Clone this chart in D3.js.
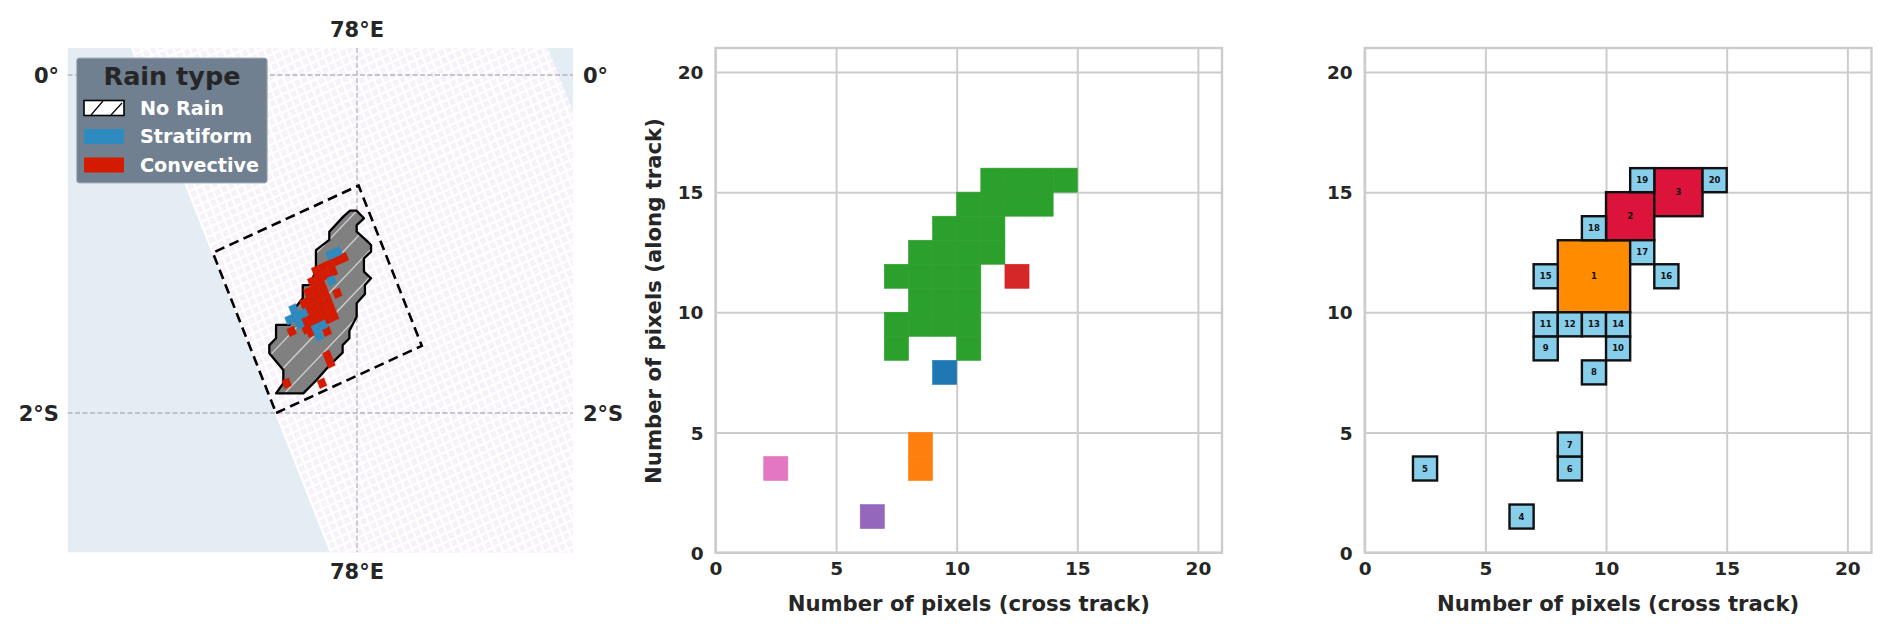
<!DOCTYPE html>
<html>
<head>
<meta charset="utf-8">
<script src="https://cdn.jsdelivr.net/npm/d3@7"></script>
<style>
  html, body { margin: 0; background: #fff; }
  svg { display: block; }
  text { font-family: "DejaVu Sans", sans-serif; font-weight: bold; fill: #262626; }
</style>
</head>
<body>
<svg width="1892" height="636"></svg>
<script>
// cluster cells of the middle panel, [column, row]
const greenCells = [
  [7, 8], [10, 8],
  [7, 9], [8, 9], [9, 9], [10, 9],
  [8, 10], [9, 10], [10, 10],
  [7, 11], [8, 11], [9, 11], [10, 11],
  [8, 12], [9, 12], [10, 12], [11, 12],
  [9, 13], [10, 13], [11, 13],
  [10, 14], [11, 14], [12, 14], [13, 14],
  [11, 15], [12, 15], [13, 15], [14, 15],
];
const blueCells = [[9, 7]];
const redCells = [[12, 11]];
const orangeCells = [[8, 3], [8, 4]];
const purpleCells = [[6, 1]];
const pinkCells = [[2, 3]];

// quadtree boxes of the right panel, [label, x, y, size]
const boxLabels = [1, 2, 3, 4, 5, 6, 7, 8, 9, 10, 11, 12, 13, 14, 15, 16, 17, 18, 19, 20];
const boxX = [8, 10, 12, 6, 2, 8, 8, 9, 7, 10, 7, 8, 9, 10, 7, 12, 11, 9, 11, 14];
const boxY = [10, 13, 14, 1, 3, 3, 4, 7, 8, 8, 9, 9, 9, 9, 11, 11, 12, 13, 15, 15];
const boxSize = [3, 2, 2, 1, 1, 1, 1, 1, 1, 1, 1, 1, 1, 1, 1, 1, 1, 1, 1, 1];

// cloud outline on the map
const outlineLon = [77.959, 77.998, 78.041, 77.998, 77.998, 78.057, 78.083, 78.083, 78.041, 78.041, 78.083, 78.047, 78.047, 77.998, 77.998, 77.955, 77.955, 77.915, 77.915, 77.83, 77.761, 77.682, 77.521, 77.564, 77.564, 77.481, 77.481, 77.521, 77.521, 77.6, 77.639, 77.679, 77.679, 77.722, 77.757, 77.757, 77.836, 77.836, 77.919];
const outlineLat = [-0.803, -0.803, -0.848, -0.888, -0.927, -0.98, -1.006, -1.045, -1.085, -1.164, -1.203, -1.243, -1.296, -1.351, -1.43, -1.513, -1.558, -1.598, -1.643, -1.726, -1.805, -1.884, -1.884, -1.824, -1.746, -1.647, -1.598, -1.558, -1.479, -1.479, -1.371, -1.321, -1.243, -1.243, -1.154, -1.036, -0.976, -0.927, -0.838];

// rain pixels on the map, in swath pixels from the first isolated pixel
const convective = [
  [0, 0], [4.3, -1.8], [6.3, 0], [6.3, 1], [10.5, 7.4], [3.1, 5.5], [7.4, 3.7], [5.4, 4.4],
  [9, 11], [10, 11], [11, 11], [12, 11], [13, 11],
  [8, 10], [9, 10], [10, 10], [11, 10],
  [7, 9], [8, 9], [9, 9],
  [6, 8], [7, 8], [8, 8], [9, 8],
  [6, 7], [7, 7], [8, 7], [9, 7],
  [5, 6], [6, 6], [7, 6], [8, 6], [9, 6],
  [5, 5], [6, 5], [7, 5], [8, 5], [9, 5],
];
const stratiform = [
  [11.5, 12], [12.5, 12], [10.4, 9.1],
  [4.4, 6.9], [3.4, 6.9], [5.4, 6.9], [4.4, 7.9], [4.4, 5.9],
  [6.2, 4.6], [7.2, 4.6], [6.2, 3.6],
];

const axisTicks = [0, 5, 10, 15, 20];
const rainTypes = ["No Rain", "Stratiform", "Convective"];

const TEXT_COLOR = "#262626";
const GRID_COLOR = "#cccccc";

const svg = d3.select("svg");

//////////// PIXEL PANELS ////////////

function pixelPanel(left, right, top, bottom) {
  const x = d3.scaleLinear().domain([0, 21]).range([left, right]);
  const y = d3.scaleLinear().domain([0, 21]).range([bottom, top]);
  const g = svg.append("g");

  const xAxis = g.append("g")
    .attr("transform", `translate(0,${bottom})`)
    .call(d3.axisBottom(x).tickValues(axisTicks).tickSize(top - bottom).tickPadding(0));
  const yAxis = g.append("g")
    .attr("transform", `translate(${left},0)`)
    .call(d3.axisLeft(y).tickValues(axisTicks).tickSize(left - right).tickPadding(0));
  [xAxis, yAxis].forEach((a) => {
    a.select(".domain").remove();
    a.selectAll("line").attr("stroke", GRID_COLOR).attr("stroke-width", 2);
    a.selectAll("text").attr("font-size", 18.5).attr("fill", TEXT_COLOR);
  });
  xAxis.selectAll("text").attr("y", 0).attr("dy", "1.2em");
  yAxis.selectAll("text").attr("x", 0).attr("dx", -12).attr("dy", "0.36em")
    .attr("text-anchor", "end");

  g.append("rect")
    .attr("x", left).attr("y", top)
    .attr("width", right - left).attr("height", bottom - top)
    .attr("fill", "none").attr("stroke", GRID_COLOR).attr("stroke-width", 2.4);

  g.append("text")
    .attr("x", (left + right) / 2).attr("y", bottom + 58.5)
    .attr("text-anchor", "middle").attr("font-size", 21.2)
    .text("Number of pixels (cross track)");
  return { g, x, y };
}

const middle = pixelPanel(715.5, 1222, 48, 552.6);
const right = pixelPanel(1364.7, 1871.5, 48, 552.6);

middle.g.append("text")
  .attr("transform", "translate(661,301) rotate(-90)")
  .attr("text-anchor", "middle").attr("font-size", 21.2)
  .text("Number of pixels (along track)");

const clusters = [
  [greenCells, "#2ca02c"],
  [blueCells, "#1f77b4"],
  [redCells, "#d62728"],
  [orangeCells, "#ff7f0e"],
  [purpleCells, "#9467bd"],
  [pinkCells, "#e377c2"],
];
clusters.forEach(([cells, color]) => {
  middle.g.append("g").selectAll("rect")
    .data(cells)
    .join("rect")
    .attr("x", (d) => middle.x(d[0]))
    .attr("y", (d) => middle.y(d[1] + 1))
    .attr("width", middle.x(1) - middle.x(0))
    .attr("height", middle.y(0) - middle.y(1))
    .attr("fill", color)
    .attr("stroke", color)
    .attr("stroke-width", 0.6);
});

const boxColor = (s) => (s === 3 ? "#ff8c00" : s === 2 ? "#dc143c" : "#87ceeb");
const boxes = right.g.append("g").selectAll("g")
  .data(boxLabels)
  .join("g");
boxes.append("rect")
  .attr("x", (d, i) => right.x(boxX[i]))
  .attr("y", (d, i) => right.y(boxY[i] + boxSize[i]))
  .attr("width", (d, i) => right.x(boxSize[i]) - right.x(0))
  .attr("height", (d, i) => right.y(0) - right.y(boxSize[i]))
  .attr("fill", (d, i) => boxColor(boxSize[i]))
  .attr("stroke", "#111").attr("stroke-width", 2.4);
boxes.append("text")
  .attr("x", (d, i) => right.x(boxX[i] + boxSize[i] / 2))
  .attr("y", (d, i) => right.y(boxY[i] + boxSize[i] / 2))
  .attr("dy", "0.36em")
  .attr("text-anchor", "middle").attr("font-size", 8.5)
  .style("fill", "#111")
  .text((d) => d);

//////////// MAP PANEL ////////////

const mapLeft = 67.5, mapRight = 573, mapTop = 48, mapBottom = 552.6;
const lonScale = d3.scaleLinear().domain([78, 78 + 1]).range([357, 357 + 169]);
const latScale = d3.scaleLinear().domain([0, -2]).range([75, 413]);

// swath pixel (i, j) to lon/lat, the swath is a rotated grid starting at its left edge
const SWATH = { lon: 77.521, lat: -2, lonI: 0.04107, latI: 0.01893, lonJ: -0.01781, latJ: 0.04515 };
const swathPoint = (i, j) => [
  lonScale(SWATH.lon + i * SWATH.lonI + j * SWATH.lonJ),
  latScale(SWATH.lat + i * SWATH.latI + j * SWATH.latJ),
];
const SWATH_WIDTH = 50.7;
const RAIN_ORIGIN = [2.73, 2.75];

const defs = svg.append("defs");
defs.append("clipPath").attr("id", "mapClip").append("rect")
  .attr("x", mapLeft).attr("y", mapTop)
  .attr("width", mapRight - mapLeft).attr("height", mapBottom - mapTop);
const outlinePoints = outlineLon.map((lon, i) => [lonScale(lon), latScale(outlineLat[i])]);
const outlinePath = d3.line().curve(d3.curveLinearClosed)(outlinePoints);
defs.append("clipPath").attr("id", "cloudClip").append("path").attr("d", outlinePath);

const map = svg.append("g").attr("clip-path", "url(#mapClip)");
map.append("rect")
  .attr("x", mapLeft).attr("y", mapTop)
  .attr("width", mapRight - mapLeft).attr("height", mapBottom - mapTop)
  .attr("fill", "#e4ecf4");

const J_MIN = -70, J_MAX = 62;
map.append("path")
  .attr("d", d3.line().curve(d3.curveLinearClosed)([
    swathPoint(0, J_MIN), swathPoint(SWATH_WIDTH, J_MIN),
    swathPoint(SWATH_WIDTH, J_MAX), swathPoint(0, J_MAX),
  ]))
  .attr("fill", "#f7f2f9");

const gridLines = d3.range(0, SWATH_WIDTH, 1).map((i) => [swathPoint(i, J_MIN), swathPoint(i, J_MAX)])
  .concat(d3.range(J_MIN, J_MAX, 1).map((j) => [swathPoint(0, j), swathPoint(SWATH_WIDTH, j)]));
map.append("g").selectAll("path")
  .data(gridLines)
  .join("path")
  .attr("d", d3.line())
  .attr("stroke", "#fff").attr("stroke-width", 2.2).attr("fill", "none");

// graticule
const graticule = [
  [[mapLeft, latScale(0)], [mapRight, latScale(0)]],
  [[mapLeft, latScale(-2)], [mapRight, latScale(-2)]],
  [[lonScale(78), mapTop], [lonScale(78), mapBottom]],
];
map.append("g").selectAll("path")
  .data(graticule)
  .join("path")
  .attr("d", d3.line())
  .attr("stroke", "#b5b3bd").attr("stroke-width", 1.3).attr("stroke-dasharray", "5,2.5");

// cloud with its hatch
map.append("path").attr("d", outlinePath).attr("fill", "#808080");
const hatch = map.append("g").attr("clip-path", "url(#cloudClip)");
d3.range(-3, 9).forEach((k) => {
  hatch.append("line")
    .attr("x1", 200).attr("y1", 692.2 - 26.7 * k - 1.05 * 200)
    .attr("x2", 450).attr("y2", 692.2 - 26.7 * k - 1.05 * 450)
    .attr("stroke", "#d0d0d0").attr("stroke-width", 1.3);
});

const rainPixel = ([a, b]) => {
  const i = a + RAIN_ORIGIN[0] - 0.5, j = b + RAIN_ORIGIN[1] - 0.5;
  return d3.line().curve(d3.curveLinearClosed)([
    swathPoint(i, j), swathPoint(i + 1, j), swathPoint(i + 1, j + 1), swathPoint(i, j + 1),
  ]);
};
map.append("path").attr("d", outlinePath)
  .attr("fill", "none").attr("stroke", "#000").attr("stroke-width", 2.3).attr("stroke-linejoin", "round");
map.append("g").selectAll("path")
  .data(convective)
  .join("path")
  .attr("d", rainPixel)
  .attr("fill", "#d41a00").attr("stroke", "#d41a00").attr("stroke-width", 0.3);
map.append("g").selectAll("path")
  .data(stratiform)
  .join("path")
  .attr("d", rainPixel)
  .attr("fill", "#2e8bc0").attr("stroke", "#2e8bc0").attr("stroke-width", 0.3);

// dashed box of the 21 x 21 scene
map.append("path")
  .attr("d", d3.line().curve(d3.curveLinearClosed)([
    swathPoint(0, 0), swathPoint(21, 0), swathPoint(21, 21), swathPoint(0, 21),
  ]))
  .attr("fill", "none").attr("stroke", "#000").attr("stroke-width", 2.6).attr("stroke-dasharray", "10,5.5");

// graticule labels
const mapLabels = [
  ["78°E", lonScale(78), 29, "middle"],
  ["78°E", lonScale(78), 571, "middle"],
  ["0°", 59, latScale(0), "end"],
  ["2°S", 59, latScale(-2), "end"],
  ["0°", 583, latScale(0), "start"],
  ["2°S", 583, latScale(-2), "start"],
];
svg.append("g").selectAll("text")
  .data(mapLabels)
  .join("text")
  .attr("x", (d) => d[1]).attr("y", (d) => d[2])
  .attr("dy", "0.36em")
  .attr("text-anchor", (d) => d[3])
  .attr("font-size", 21)
  .text((d) => d[0]);

// legend
const legend = svg.append("g");
legend.append("rect")
  .attr("x", 76.7).attr("y", 58).attr("width", 190.5).attr("height", 125).attr("rx", 2.5)
  .attr("fill", "#708090").attr("stroke", "#a9b3bd").attr("stroke-width", 1);
legend.append("text")
  .attr("x", 172).attr("y", 84.5)
  .attr("text-anchor", "middle").attr("font-size", 25.5)
  .text("Rain type");
const legendY = d3.scalePoint().domain(rainTypes).range([108, 165]);
const legendFill = d3.scaleOrdinal().domain(rainTypes).range(["#fff", "#2e8bc0", "#d41a00"]);
legend.append("g").selectAll("rect")
  .data(rainTypes)
  .join("rect")
  .attr("x", 84).attr("y", (d) => legendY(d) - 7.5)
  .attr("width", 40).attr("height", 15)
  .attr("fill", legendFill)
  .attr("stroke", (d) => (d === "No Rain" ? "#000" : "none")).attr("stroke-width", 1.6);
// hatch marks of the No Rain swatch
[[[91, 115], [103, 101]], [[111, 115], [122, 103]]].forEach((seg) => {
  legend.append("path").attr("d", d3.line()(seg)).attr("stroke", "#000").attr("stroke-width", 1.2);
});
legend.append("g").selectAll("text")
  .data(rainTypes)
  .join("text")
  .attr("x", 140).attr("y", (d) => legendY(d))
  .attr("dy", "0.36em").attr("font-size", 19.2)
  .style("fill", "#fff")
  .text((d) => d);
</script>
</body>
</html>
